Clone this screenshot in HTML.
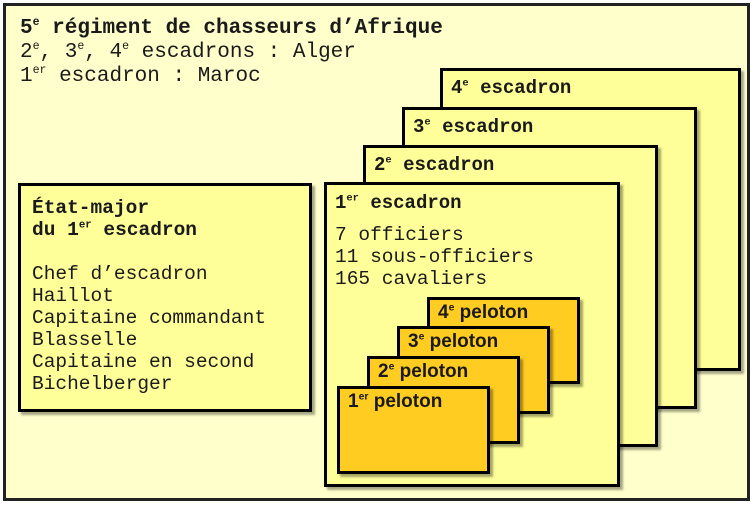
<!DOCTYPE html>
<html><head><meta charset="utf-8"><style>
body{margin:0;width:753px;height:506px;background:#fff;position:relative;overflow:hidden;font-family:"Liberation Mono",monospace;color:#1a1a1a}
.b{position:absolute;box-sizing:border-box;border:3px solid #000;box-shadow:3px 3px 2px rgba(0,0,0,0.35)}
.e{background:#ffff99}
.p{background:#ffcc22;font-family:"Liberation Sans",sans-serif;font-weight:bold;font-size:19px;padding:2px 0 0 8px}
.t{position:absolute;white-space:pre;font-size:19.5px;line-height:22px}
sup{font-size:0.55em;vertical-align:0.7em;line-height:0}
b{font-weight:bold}
</style></head><body>
<div class="b" style="left:3px;top:3px;width:747px;height:498px;background:#ffffcc;border-color:#222;box-shadow:none"></div>
<div class="t" style="left:20px;top:17px;font-size:21px;line-height:24px"><b>5<sup>e</sup> régiment de chasseurs d’Afrique</b>
2<sup>e</sup>, 3<sup>e</sup>, 4<sup>e</sup> escadrons : Alger
1<sup>er</sup> escadron : Maroc</div>

<div class="b e" style="left:440px;top:68px;width:301px;height:303px"><div class="t" style="left:8px;top:6px;font-size:19px"><b>4<sup>e</sup> escadron</b></div></div>
<div class="b e" style="left:402px;top:107px;width:295px;height:302px"><div class="t" style="left:8px;top:6px;font-size:19px"><b>3<sup>e</sup> escadron</b></div></div>
<div class="b e" style="left:363px;top:145px;width:295px;height:302px"><div class="t" style="left:8px;top:6px;font-size:19px"><b>2<sup>e</sup> escadron</b></div></div>
<div class="b e" style="left:324px;top:182px;width:296px;height:305px"><div class="t" style="left:8px;top:7px;font-size:19px"><b>1<sup>er</sup> escadron</b></div><div class="t" style="left:8px;top:39px">7 officiers
11 sous-officiers
165 cavaliers</div></div>

<div class="b e" style="left:18px;top:183px;width:294px;height:229px"><div class="t" style="left:11px;top:11px"><b>État-major
du 1<sup>er</sup> escadron</b>

Chef d’escadron
Haillot
Capitaine commandant
Blasselle
Capitaine en second
Bichelberger</div></div>

<div class="b p" style="left:427px;top:297px;width:153px;height:87px">4<sup>e</sup> peloton</div>
<div class="b p" style="left:397px;top:326px;width:153px;height:88px">3<sup>e</sup> peloton</div>
<div class="b p" style="left:367px;top:356px;width:153px;height:88px">2<sup>e</sup> peloton</div>
<div class="b p" style="left:337px;top:386px;width:153px;height:88px">1<sup>er</sup> peloton</div>
</body></html>
